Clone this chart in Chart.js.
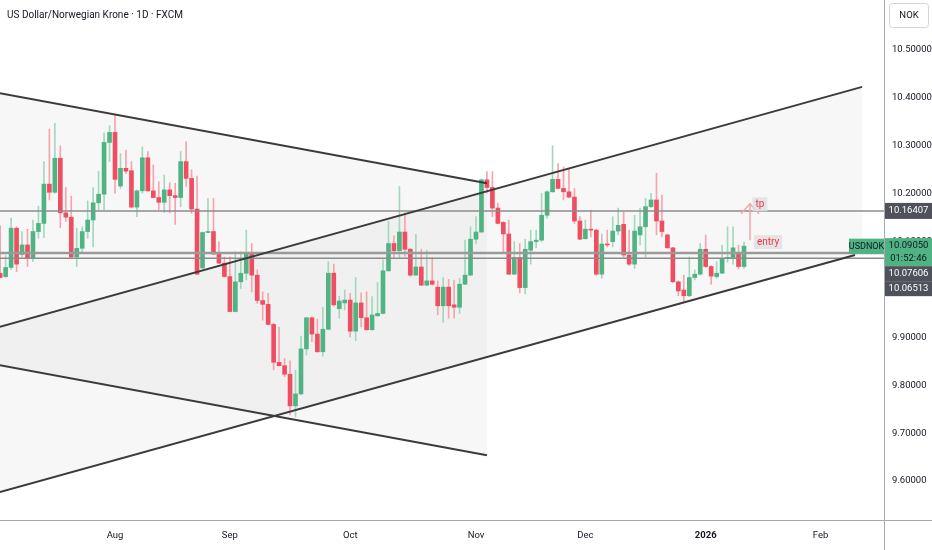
<!DOCTYPE html>
<html>
<head>
<meta charset="utf-8">
<script src="https://cdn.jsdelivr.net/npm/chart.js@4.4.1/dist/chart.umd.min.js"></script>
<style>
html, body { margin: 0; padding: 0; background: #fff; }
#wrap { position: relative; width: 932px; height: 550px; }
</style>
</head>
<body>
<div id="wrap"><canvas id="usdnok-chart"></canvas></div>
<script>
const title = 'US Dollar/Norwegian Krone · 1D · FXCM';
const firstBar = -21; // bar number of the first candle, bar 0 = 1 Aug

const opens = [
  10.034, 10.027, 10.046, 10.128, 10.073, 10.093, 10.066, 10.121, 10.138, 10.220,
  10.203, 10.274, 10.160, 10.151, 10.068, 10.086, 10.121, 10.145, 10.181, 10.199,
  10.307, 10.328, 10.216, 10.253, 10.248, 10.172, 10.206, 10.275, 10.206, 10.192,
  10.182, 10.208, 10.196, 10.192, 10.267, 10.232, 10.168, 10.045, 10.119, 10.121,
  10.074, 10.055, 10.027, 9.954, 10.016, 10.034, 10.076, 10.030, 9.977, 9.969,
  9.927, 9.848, 9.841, 9.823, 9.757, 9.782, 9.876, 9.941, 9.907, 9.870,
  9.917, 10.034, 9.960, 9.972, 9.978, 9.913, 9.972, 9.941, 9.916, 9.945,
  9.950, 10.039, 10.096, 10.081, 10.120, 10.084, 10.030, 10.047, 10.009, 10.018,
  10.005, 9.966, 10.005, 9.968, 9.963, 10.011, 10.030, 10.105, 10.120, 10.229,
  10.213, 10.170, 10.140, 10.116, 10.032, 10.067, 10.004, 10.082, 10.100, 10.103,
  10.155, 10.204, 10.230, 10.211, 10.204, 10.193, 10.143, 10.106, 10.126, 10.124,
  10.032, 10.095, 10.100, 10.122, 10.136, 10.072, 10.053, 10.114, 10.131, 10.173,
  10.187, 10.143, 10.114, 10.087, 10.016, 9.999, 9.987, 10.025, 10.032, 10.084,
  10.048, 10.027, 10.034, 10.065, 10.067, 10.076, 10.048
];
const highs = [
  10.133, 10.071, 10.149, 10.131, 10.121, 10.126, 10.145, 10.174, 10.267, 10.335,
  10.347, 10.300, 10.213, 10.195, 10.128, 10.131, 10.185, 10.213, 10.247, 10.327,
  10.342, 10.364, 10.284, 10.291, 10.267, 10.208, 10.298, 10.288, 10.260, 10.225,
  10.239, 10.223, 10.222, 10.288, 10.309, 10.250, 10.237, 10.120, 10.190, 10.190,
  10.100, 10.068, 10.068, 10.079, 10.079, 10.124, 10.096, 10.041, 9.995, 9.992,
  9.930, 9.921, 9.856, 9.851, 9.832, 9.903, 9.942, 9.943, 9.938, 9.963,
  10.058, 10.053, 9.986, 9.999, 9.992, 10.025, 9.993, 9.995, 9.985, 10.015,
  10.062, 10.142, 10.112, 10.215, 10.160, 10.086, 10.115, 10.084, 10.082, 10.067,
  10.018, 10.025, 10.021, 10.019, 10.023, 10.103, 10.131, 10.152, 10.231, 10.246,
  10.246, 10.180, 10.142, 10.145, 10.100, 10.096, 10.105, 10.124, 10.124, 10.201,
  10.206, 10.300, 10.263, 10.256, 10.253, 10.211, 10.152, 10.145, 10.166, 10.126,
  10.116, 10.124, 10.152, 10.170, 10.162, 10.124, 10.155, 10.170, 10.190, 10.201,
  10.243, 10.197, 10.116, 10.088, 10.018, 10.030, 10.068, 10.041, 10.096, 10.114,
  10.050, 10.058, 10.093, 10.131, 10.131, 10.093, 10.099
];
const lows = [
  10.024, 10.025, 10.042, 10.037, 10.068, 10.048, 10.058, 10.107, 10.108, 10.187,
  10.201, 10.129, 10.142, 10.066, 10.048, 10.079, 10.107, 10.089, 10.166, 10.166,
  10.267, 10.201, 10.211, 10.242, 10.170, 10.152, 10.201, 10.205, 10.191, 10.167,
  10.161, 10.160, 10.136, 10.173, 10.215, 10.159, 10.031, 10.044, 10.118, 10.073,
  10.054, 10.026, 9.953, 9.953, 10.002, 10.020, 9.995, 9.971, 9.936, 9.926,
  9.832, 9.840, 9.818, 9.738, 9.734, 9.780, 9.863, 9.891, 9.869, 9.861,
  9.916, 9.965, 9.940, 9.957, 9.901, 9.893, 9.922, 9.915, 9.915, 9.944,
  9.949, 10.038, 10.067, 10.067, 10.069, 10.027, 10.029, 10.008, 10.008, 10.009,
  9.947, 9.931, 9.940, 9.940, 9.950, 10.010, 10.029, 10.095, 10.119, 10.201,
  10.152, 10.137, 10.079, 10.031, 10.031, 9.993, 9.991, 10.053, 10.087, 10.100,
  10.149, 10.203, 10.210, 10.187, 10.191, 10.138, 10.104, 10.105, 10.110, 10.030,
  10.023, 10.089, 10.089, 10.114, 10.068, 10.050, 10.044, 10.093, 10.068, 10.171,
  10.114, 10.110, 10.086, 10.015, 9.987, 9.973, 9.985, 10.020, 10.030, 10.046,
  10.011, 10.023, 10.033, 10.057, 10.053, 10.043, 10.044
];
const closes = [
  10.025, 10.046, 10.128, 10.053, 10.093, 10.066, 10.121, 10.138, 10.220, 10.203,
  10.274, 10.160, 10.151, 10.068, 10.086, 10.121, 10.145, 10.181, 10.199, 10.307,
  10.328, 10.230, 10.253, 10.247, 10.172, 10.206, 10.275, 10.206, 10.192, 10.182,
  10.208, 10.196, 10.192, 10.267, 10.232, 10.168, 10.032, 10.119, 10.121, 10.074,
  10.055, 10.027, 9.954, 10.016, 10.034, 10.076, 10.030, 9.977, 9.969, 9.927,
  9.848, 9.841, 9.823, 9.757, 9.782, 9.876, 9.941, 9.907, 9.870, 9.917,
  10.034, 9.968, 9.976, 9.978, 9.913, 9.972, 9.941, 9.916, 9.947, 9.950,
  10.039, 10.096, 10.081, 10.120, 10.084, 10.030, 10.047, 10.009, 10.018, 10.011,
  9.966, 10.005, 9.966, 9.963, 10.011, 10.030, 10.105, 10.120, 10.229, 10.213,
  10.170, 10.138, 10.116, 10.032, 10.067, 10.004, 10.084, 10.100, 10.103, 10.155,
  10.204, 10.230, 10.211, 10.204, 10.193, 10.143, 10.105, 10.126, 10.124, 10.032,
  10.095, 10.093, 10.122, 10.134, 10.072, 10.053, 10.122, 10.131, 10.173, 10.187,
  10.143, 10.121, 10.087, 10.016, 9.997, 9.987, 10.025, 10.032, 10.084, 10.048,
  10.028, 10.034, 10.065, 10.067, 10.087, 10.048, 10.0905
];

const monthTicks = [0, 21, 43, 66, 86, 108, 129];
const monthLabels = ['Aug', 'Sep', 'Oct', 'Nov', 'Dec', '2026', 'Feb'];
const priceTicks = [9.6, 9.7, 9.8, 9.9, 10.0, 10.1, 10.2, 10.3, 10.4, 10.5];

const tpLevel = 10.16407;
const entryLevels = [10.07606, 10.06513];
const lastPrice = 10.0905;
const countdown = '01:52:46';

// drawings: [bar, price] end points
const fallTop = [[-21.05, 10.410], [68.0, 10.222]];
const fallBottom = [[-21.05, 9.842], [68.0, 9.654]];
const riseTop = [[-21.05, 9.922], [136.6, 10.423]];
const riseBottom = [[-21.05, 9.577], [135.3, 10.072]];
const riseBottomEdge = [[-21.05, 9.577], [136.6, 10.076]];
const arrowShaft = [[116.1, 10.103], [116.1, 10.180]];
const arrowHead = [[114.45, 10.158], [116.1, 10.179], [117.75, 10.158]];
const tpLabel = [117.9, 10.178];
const entryLabel = [119.4, 10.099];

const xMin = -21.03, xMax = 140.6;

const upBody = '#4fb383', downBody = '#ef4e60';
const upWick = '#a3d8bd', downWick = '#f5a4ac';

const bars = opens.map((o, k) => ({ x: firstBar + k, o: o, h: highs[k], l: lows[k], c: closes[k] }));
const ups = bars.filter(b => b.c >= b.o);
const downs = bars.filter(b => b.c < b.o);

function barSet(list, pick, color, thick, order) {
    return {
        type: 'bar',
        data: list.map(b => ({ x: b.x, y: pick(b) })),
        backgroundColor: color,
        barThickness: thick,
        grouped: false,
        minBarLength: 1,
        borderWidth: 0,
        order: order
    };
}

function lineSet(pts, color, width, order, extra) {
    return Object.assign({
        type: 'line',
        data: pts.map(p => ({ x: p[0], y: p[1] })),
        borderColor: color,
        borderWidth: width,
        pointRadius: 0,
        tension: 0,
        fill: false,
        order: order
    }, extra || {});
}

const shade = 'rgba(0,0,0,0.032)';
const datasets = [
    lineSet(fallTop, '#3b3b3b', 2, 2, { fill: { target: 1 }, backgroundColor: shade }), // 0
    lineSet(fallBottom, '#3b3b3b', 2, 2),                                                // 1
    lineSet(riseTop, 'rgba(0,0,0,0)', 0, 30, { fill: { target: 3 }, backgroundColor: shade }), // 2
    lineSet(riseBottomEdge, 'rgba(0,0,0,0)', 0, 30),                                     // 3
    lineSet(riseTop, '#3b3b3b', 2, 2),
    lineSet(riseBottom, '#3b3b3b', 2, 2),
    lineSet([[xMin, tpLevel], [xMax, tpLevel]], '#8c8c8c', 1.5, 4),
    lineSet([[xMin, entryLevels[0]], [xMax, entryLevels[0]]], '#9a9a9a', 2.5, 4),
    lineSet([[xMin, entryLevels[1]], [xMax, entryLevels[1]]], '#8c8c8c', 1.5, 4),
    barSet(ups, b => [b.l, b.h], upWick, 1, 12),
    barSet(downs, b => [b.l, b.h], downWick, 1, 12),
    barSet(ups, b => [b.o, b.c], upBody, 4, 10),
    barSet(downs, b => [b.o, b.c], downBody, 4, 10),
    lineSet(arrowShaft, '#f5a3ab', 1.5, 1),
    lineSet(arrowHead, '#f5a3ab', 1.5, 1)
];

const axisFont = { family: 'Roboto', size: 9.5 };

const overlay = {
    id: 'overlay',
    afterDraw(chart) {
        const ctx = chart.ctx, a = chart.chartArea;
        const xs = chart.scales.x, ys = chart.scales.y;
        ctx.save();
        ctx.strokeStyle = '#a7aab3';
        ctx.lineWidth = 1;
        ctx.beginPath();
        ctx.moveTo(Math.round(a.right) + 0.5, 0);
        ctx.lineTo(Math.round(a.right) + 0.5, chart.height);
        ctx.moveTo(0, Math.round(a.bottom) + 0.5);
        ctx.lineTo(chart.width, Math.round(a.bottom) + 0.5);
        ctx.stroke();

        ctx.textBaseline = 'middle';
        ctx.textAlign = 'left';
        ctx.fillStyle = '#131722';
        ctx.font = '10px Roboto';
        ctx.fillText(title, 7, 15);

        // currency box
        ctx.strokeStyle = '#d1d4dc';
        ctx.beginPath();
        ctx.roundRect(a.right + 5.5, 3.5, 39, 24, 3);
        ctx.stroke();
        ctx.textAlign = 'center';
        ctx.font = axisFont.size + 'px Roboto';
        ctx.fillText('NOK', a.right + 25, 16);

        const tagX = a.right + 1, tagW = chart.width - a.right - 1;
        function tag(top, h, bg, fg, lines) {
            ctx.fillStyle = bg;
            ctx.fillRect(tagX, top, tagW, h);
            ctx.fillStyle = fg;
            ctx.textAlign = 'center';
            lines.forEach((t, i) => ctx.fillText(t, tagX + tagW / 2, top + 7.5 + i * 13));
        }
        const yTp = ys.getPixelForValue(tpLevel);
        tag(yTp - 8, 16, '#4f525b', '#ffffff', [tpLevel.toFixed(5)]);
        const yLast = ys.getPixelForValue(lastPrice);
        tag(yLast - 8, 28, upBody, '#131722', [lastPrice.toFixed(5), countdown]);
        tag(yLast + 20, 15, '#4f525b', '#ffffff', [entryLevels[0].toFixed(5)]);
        tag(yLast + 35, 15, '#4f525b', '#ffffff', [entryLevels[1].toFixed(5)]);

        // symbol label
        ctx.fillStyle = upBody;
        ctx.fillRect(a.right - 35, yLast - 7.5, 35, 15);
        ctx.fillStyle = '#131722';
        ctx.font = '9px Roboto';
        ctx.fillText('USDNOK', a.right - 17.5, yLast + 0.5);

        // trade labels
        function note(text, pos) {
            const px = xs.getPixelForValue(pos[0]), py = ys.getPixelForValue(pos[1]);
            ctx.font = '10px Roboto';
            const w = ctx.measureText(text).width + 6;
            ctx.fillStyle = 'rgba(225,225,225,0.85)';
            ctx.fillRect(px - w / 2, py - 7, w, 14);
            ctx.fillStyle = '#f23645';
            ctx.fillText(text, px, py + 0.5);
        }
        note('tp', tpLabel);
        note('entry', entryLabel);
        ctx.restore();
    }
};

new Chart(document.getElementById('usdnok-chart'), {
    type: 'bar',
    data: { datasets: datasets },
    options: {
        responsive: true,
        maintainAspectRatio: false,
        animation: false,
        layout: { padding: 0 },
        plugins: {
            legend: { display: false },
            tooltip: { enabled: false },
            filler: { drawTime: 'beforeDatasetsDraw' }
        },
        scales: {
            x: {
                type: 'linear',
                min: xMin,
                max: xMax,
                offset: false,
                grid: { display: false, drawTicks: false },
                border: { display: false },
                afterBuildTicks: s => { s.ticks = monthTicks.map(v => ({ value: v })); },
                afterFit: s => { s.height = 30; s.paddingLeft = 0; s.paddingRight = 0; },
                ticks: {
                    autoSkip: false,
                    maxRotation: 0,
                    padding: 10,
                    color: '#131722',
                    font: c => ({ family: 'Roboto', size: 9.5, weight: (c.tick && c.tick.value === 108) ? 'bold' : 'normal' }),
                    callback: (v, i) => monthLabels[i]
                }
            },
            y: {
                type: 'linear',
                position: 'right',
                min: 9.5188,
                max: 10.6044,
                grid: { display: false, drawTicks: false },
                border: { display: false },
                afterBuildTicks: s => { s.ticks = priceTicks.map(v => ({ value: v })); },
                afterFit: s => { s.width = 48; s.paddingTop = 0; s.paddingBottom = 0; },
                ticks: {
                    padding: 8,
                    color: '#131722',
                    font: axisFont,
                    callback: v => Number(v).toFixed(5)
                }
            }
        }
    },
    plugins: [overlay]
});
</script>
</body>
</html>
